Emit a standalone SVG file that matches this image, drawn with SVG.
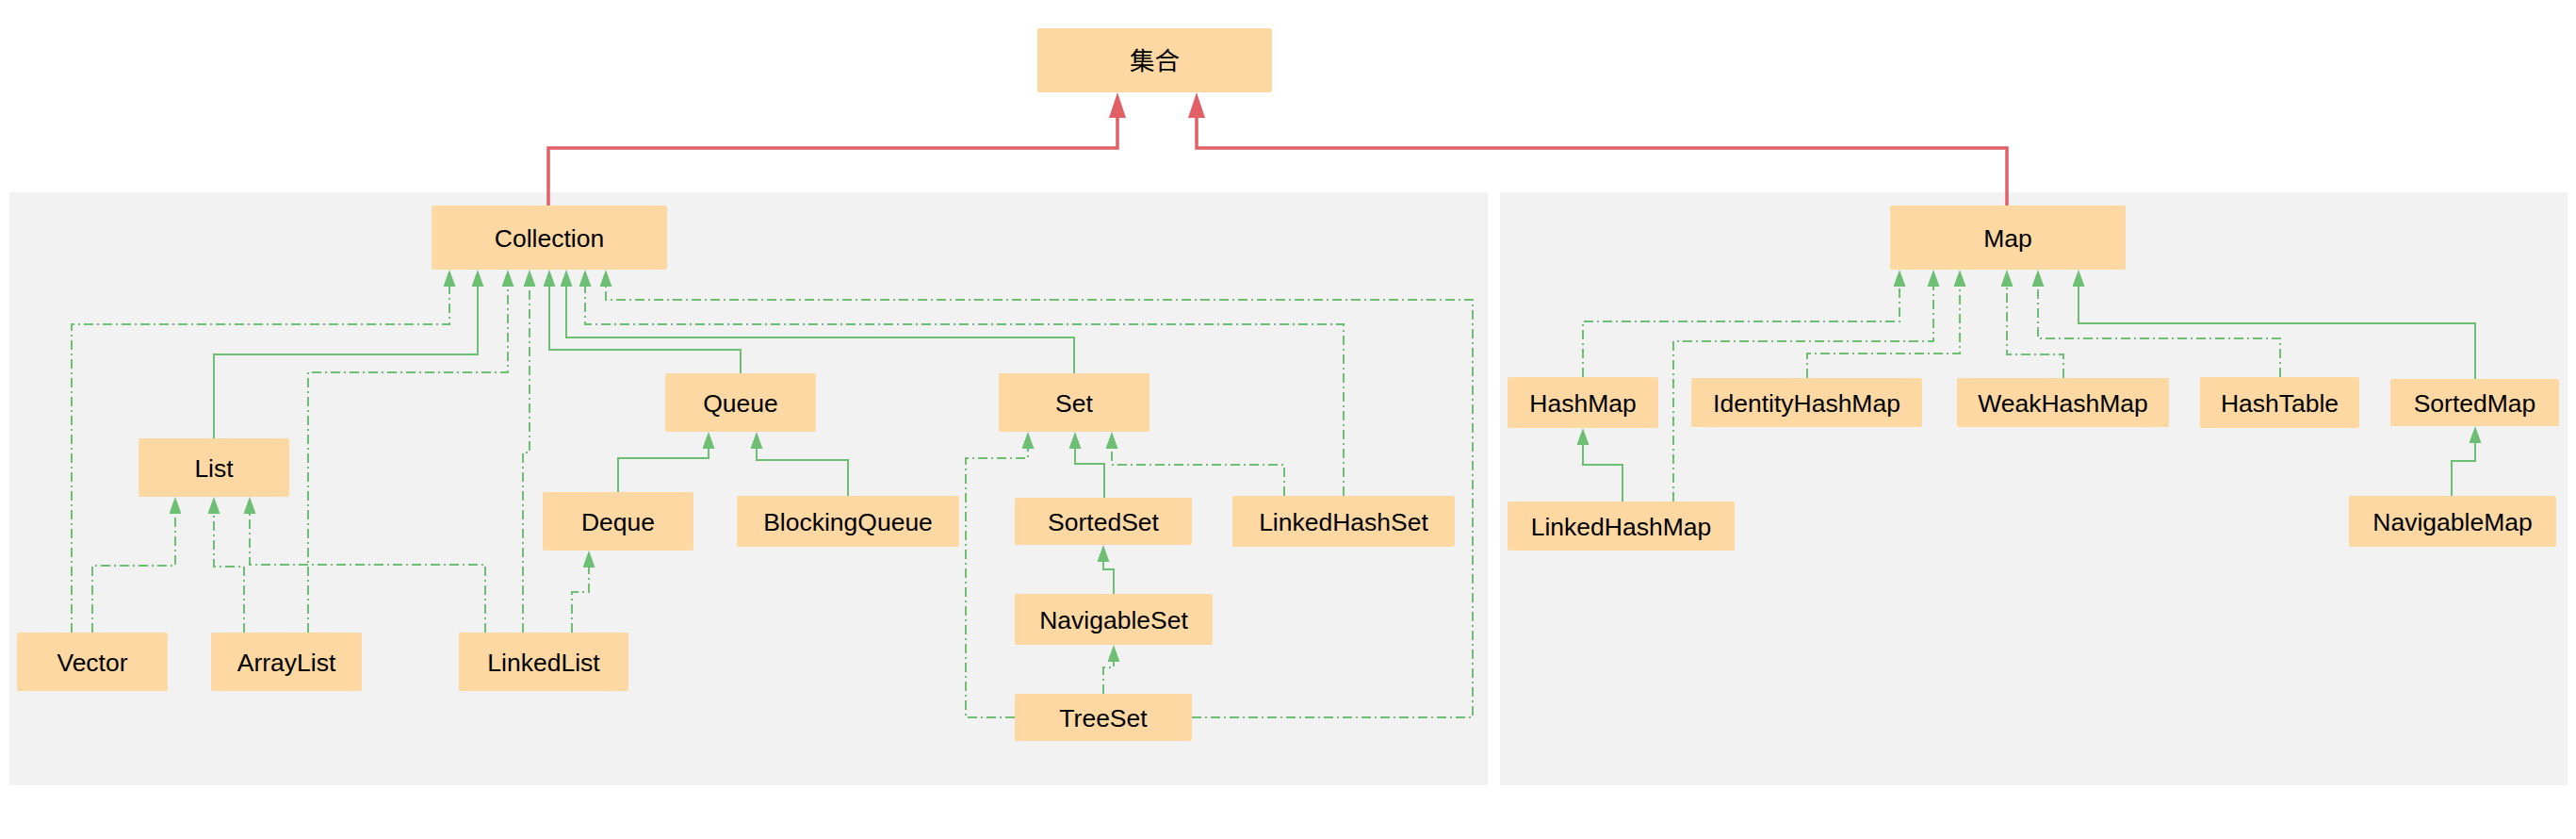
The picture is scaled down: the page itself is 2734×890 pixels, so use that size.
<svg xmlns="http://www.w3.org/2000/svg" width="2734" height="890" viewBox="0 0 2734 890">
<style>
.panel{fill:#f2f2f2}
.node rect{fill:#fdd8a3}
.node text{font-family:"Liberation Sans","Noto Sans CJK SC",Arial,sans-serif;font-size:26.5px;fill:#000;text-anchor:middle}
.edge{fill:none;stroke:#6dbf73;stroke-width:2}
.dash{stroke-dasharray:10 4 2 4}
.red{fill:none;stroke:#e06066;stroke-width:3.5}
</style>
<defs>
<marker id="ag" viewBox="0 0 18 13" refX="0" refY="6.5" markerWidth="18" markerHeight="13" markerUnits="userSpaceOnUse" orient="auto">
<path d="M0,0 L18,6.5 L0,13 Z" fill="#6dbf73"/>
</marker>
<marker id="ar" viewBox="0 0 27 18" refX="0" refY="9" markerWidth="27" markerHeight="18" markerUnits="userSpaceOnUse" orient="auto">
<path d="M0,0 L27,9 L0,18 Z" fill="#e06066"/>
</marker>
</defs>
<rect width="2734" height="890" fill="#ffffff"/>
<rect class="panel" x="10" y="204" width="1569" height="629"/>
<rect class="panel" x="1592" y="204" width="1133" height="629"/>

<g id="connectors">
<path class="red" d="M582,218 V157 H1186 V125" marker-end="url(#ar)"/>
<path class="red" d="M2130,218 V157 H1270 V125" marker-end="url(#ar)"/>

<path class="edge dash" d="M76,671 V344 H477 V304" marker-end="url(#ag)"/>
<path class="edge" d="M227,465 V376 H507 V304" marker-end="url(#ag)"/>
<path class="edge dash" d="M327,671 V395 H539 V304" marker-end="url(#ag)"/>
<path class="edge dash" d="M555,671 V480 H562 V304" marker-end="url(#ag)"/>
<path class="edge" d="M786,396 V371 H583 V304" marker-end="url(#ag)"/>
<path class="edge" d="M1140,396 V358 H601 V304" marker-end="url(#ag)"/>
<path class="edge dash" d="M1426,526 V344 H621 V304" marker-end="url(#ag)"/>
<path class="edge dash" d="M1265,761 H1563 V318 H643 V304" marker-end="url(#ag)"/>

<path class="edge dash" d="M98,671 V600 H186 V545" marker-end="url(#ag)"/>
<path class="edge dash" d="M259,671 V601 H227 V545" marker-end="url(#ag)"/>
<path class="edge dash" d="M515,671 V599 H265 V545" marker-end="url(#ag)"/>

<path class="edge dash" d="M607,671 V628 H625 V602" marker-end="url(#ag)"/>

<path class="edge" d="M656,522 V486 H752 V476" marker-end="url(#ag)"/>
<path class="edge" d="M900,526 V488 H803 V476" marker-end="url(#ag)"/>

<path class="edge dash" d="M1077,761 H1025 V486 H1091 V476" marker-end="url(#ag)"/>
<path class="edge" d="M1172,528 V492 H1141 V476" marker-end="url(#ag)"/>
<path class="edge dash" d="M1363,526 V493 H1180 V476" marker-end="url(#ag)"/>

<path class="edge" d="M1182,630 V604 H1171 V596" marker-end="url(#ag)"/>
<path class="edge dash" d="M1171,736 V708 H1182 V702" marker-end="url(#ag)"/>

<path class="edge dash" d="M1680,400 V341 H2016 V304" marker-end="url(#ag)"/>
<path class="edge dash" d="M1776,532 V362 H2052 V304" marker-end="url(#ag)"/>
<path class="edge dash" d="M1918,401 V375 H2080 V304" marker-end="url(#ag)"/>
<path class="edge dash" d="M2190,401 V376 H2130 V304" marker-end="url(#ag)"/>
<path class="edge dash" d="M2420,400 V359 H2163 V304" marker-end="url(#ag)"/>
<path class="edge" d="M2627,402 V343 H2206 V304" marker-end="url(#ag)"/>

<path class="edge" d="M1722,532 V493 H1680 V472" marker-end="url(#ag)"/>
<path class="edge" d="M2602,526 V489 H2627 V470" marker-end="url(#ag)"/>
</g>

<g id="jihe" class="node"><rect x="1101" y="30" width="249" height="68" rx="2"/><text x="1225.5" y="73.5">集合</text></g>
<g id="collection" class="node"><rect x="458" y="218" width="250" height="68" rx="2"/><text x="583" y="261.5">Collection</text></g>
<g id="list" class="node"><rect x="147" y="465" width="160" height="62" rx="2"/><text x="227" y="505.5">List</text></g>
<g id="vector" class="node"><rect x="18" y="671" width="160" height="62" rx="2"/><text x="98" y="711.5">Vector</text></g>
<g id="arraylist" class="node"><rect x="224" y="671" width="160" height="62" rx="2"/><text x="304" y="711.5">ArrayList</text></g>
<g id="linkedlist" class="node"><rect x="487" y="671" width="180" height="62" rx="2"/><text x="577" y="711.5">LinkedList</text></g>
<g id="deque" class="node"><rect x="576" y="522" width="160" height="62" rx="2"/><text x="656" y="562.5">Deque</text></g>
<g id="queue" class="node"><rect x="706" y="396" width="160" height="62" rx="2"/><text x="786" y="436.5">Queue</text></g>
<g id="blockingqueue" class="node"><rect x="782" y="526" width="236" height="54" rx="2"/><text x="900" y="562.5">BlockingQueue</text></g>
<g id="set" class="node"><rect x="1060" y="396" width="160" height="62" rx="2"/><text x="1140" y="436.5">Set</text></g>
<g id="sortedset" class="node"><rect x="1077" y="528" width="188" height="50" rx="2"/><text x="1171" y="562.5">SortedSet</text></g>
<g id="linkedhashset" class="node"><rect x="1308" y="526" width="236" height="54" rx="2"/><text x="1426" y="562.5">LinkedHashSet</text></g>
<g id="navigableset" class="node"><rect x="1077" y="630" width="210" height="54" rx="2"/><text x="1182" y="666.5">NavigableSet</text></g>
<g id="treeset" class="node"><rect x="1077" y="736" width="188" height="50" rx="2"/><text x="1171" y="770.5">TreeSet</text></g>

<g id="map" class="node"><rect x="2006" y="218" width="250" height="68" rx="2"/><text x="2131" y="261.5">Map</text></g>
<g id="hashmap" class="node"><rect x="1600" y="400" width="160" height="54" rx="2"/><text x="1680" y="436.5">HashMap</text></g>
<g id="identityhashmap" class="node"><rect x="1795" y="401" width="245" height="52" rx="2"/><text x="1917.5" y="436.5">IdentityHashMap</text></g>
<g id="weakhashmap" class="node"><rect x="2077" y="401" width="225" height="52" rx="2"/><text x="2189.5" y="436.5">WeakHashMap</text></g>
<g id="hashtable" class="node"><rect x="2335" y="400" width="169" height="54" rx="2"/><text x="2419.5" y="436.5">HashTable</text></g>
<g id="sortedmap" class="node"><rect x="2537" y="402" width="179" height="50" rx="2"/><text x="2626.5" y="436.5">SortedMap</text></g>
<g id="linkedhashmap" class="node"><rect x="1600" y="532" width="241" height="52" rx="2"/><text x="1720.5" y="567.5">LinkedHashMap</text></g>
<g id="navigablemap" class="node"><rect x="2493" y="526" width="220" height="54" rx="2"/><text x="2603" y="562.5">NavigableMap</text></g>
</svg>
